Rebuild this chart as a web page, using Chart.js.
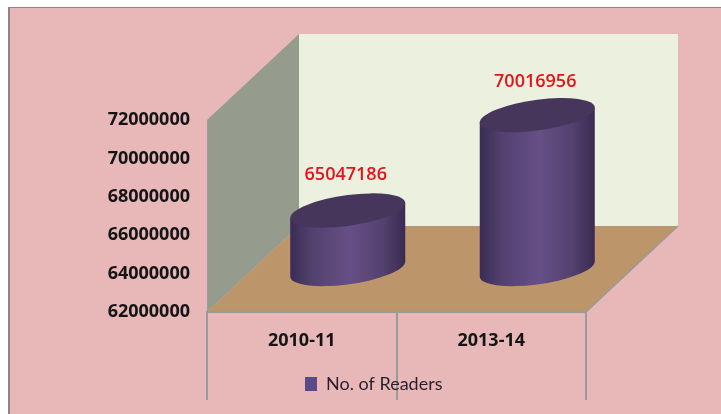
<!DOCTYPE html>
<html>
<head>
<meta charset="utf-8">
<title>No. of Readers</title>
<script src="https://cdn.jsdelivr.net/npm/chart.js@4"></script>
<style>
  html, body { margin: 0; padding: 0; background: #fff; }
  canvas { display: block; }
</style>
</head>
<body>
<canvas id="myChart" width="721" height="414"></canvas>
<script>
var years = ["2010-11", "2013-14"];
var readers = [65047186, 70016956];
var seriesName = "No. of Readers";
var yMin = 62000000;
var yMax = 72000000;
var yStep = 2000000;

var labelFont = "'Open Sans', sans-serif";
var legendFont = "Lato, sans-serif";

// how far the box goes back from the front plane
var depthX = 92;
var depthY = 86;

// gap from the top of each cylinder up to its value label
var labelGaps = [36, 33];

// page frame, walls and floor behind the bars
var room = {
  id: "room",
  beforeDraw: function(chart) {
    var ctx = chart.ctx;
    var a = chart.chartArea;
    ctx.save();
    ctx.fillStyle = "#e8b8b9";
    ctx.fillRect(9, 7, chart.width - 9, chart.height - 7);
    ctx.fillStyle = "#8f8484";
    ctx.fillRect(8, 7, 2, chart.height - 7);
    ctx.fillRect(8, 7, chart.width - 8, 1);

    // back wall
    ctx.fillStyle = "#ebf1de";
    ctx.fillRect(a.left + depthX, a.top - depthY, a.width, a.height);

    // side wall
    ctx.fillStyle = "#959c8e";
    ctx.beginPath();
    ctx.moveTo(a.left, a.top);
    ctx.lineTo(a.left + depthX, a.top - depthY);
    ctx.lineTo(a.left + depthX, a.bottom - depthY);
    ctx.lineTo(a.left, a.bottom);
    ctx.closePath();
    ctx.fill();

    // floor
    ctx.fillStyle = "#bd956b";
    ctx.beginPath();
    ctx.moveTo(a.left, a.bottom);
    ctx.lineTo(a.left + depthX, a.bottom - depthY);
    ctx.lineTo(a.right + depthX, a.bottom - depthY);
    ctx.lineTo(a.right, a.bottom);
    ctx.closePath();
    ctx.fill();

    ctx.strokeStyle = "#9a9a98";
    ctx.lineWidth = 1.5;
    ctx.beginPath();
    ctx.moveTo(a.right, a.bottom);
    ctx.lineTo(a.right + depthX, a.bottom - depthY);
    ctx.stroke();
    ctx.restore();
  },
  afterLayout: function(chart) {
    // legend sits off-centre, under the first divider
    chart.legend.left = 295;
    chart.legend.right = 721;
  }
};

// unit circle squashed and tilted into the cylinder's end cap
function capPath(ctx, cx, cy, rx, start, end) {
  ctx.save();
  ctx.transform(rx, -rx * 0.13, 0, rx * 0.268, cx, cy);
  ctx.arc(0, 0, 1, start, end);
  ctx.restore();
}

// replaces the flat bars with cylinders standing mid-way back on the floor
var cylinders = {
  id: "cylinders",
  beforeDatasetDraw: function(chart, args) {
    var ctx = chart.ctx;
    // the axis starts at yMin, so the floor is the bottom of the chart area
    var floorY = chart.scales.y.getPixelForValue(yMin);
    args.meta.data.forEach(function(bar, i) {
      var rx = bar.width / 2;
      var cx = bar.x + depthX / 2;
      var topY = bar.y - depthY / 2;
      var baseY = floorY - depthY / 2;
      var tilt = rx * 0.13;

      var side = ctx.createLinearGradient(cx - rx, 0, cx + rx, 0);
      side.addColorStop(0, "#3a2c55");
      side.addColorStop(0.2, "#54416f");
      side.addColorStop(0.52, "#664f86");
      side.addColorStop(0.8, "#54416f");
      side.addColorStop(1, "#3a2b52");

      ctx.save();
      ctx.fillStyle = side;
      ctx.beginPath();
      capPath(ctx, cx, baseY, rx, 0, Math.PI);
      ctx.lineTo(cx - rx, topY + tilt);
      ctx.lineTo(cx + rx, topY - tilt);
      ctx.closePath();
      ctx.fill();

      ctx.fillStyle = "#46365c";
      ctx.beginPath();
      capPath(ctx, cx, topY, rx, 0, Math.PI * 2);
      ctx.fill();

      ctx.fillStyle = "#e3141b";
      ctx.font = "600 18px " + labelFont;
      ctx.textAlign = "center";
      ctx.textBaseline = "middle";
      ctx.fillText(String(readers[i]), cx - 2, topY - labelGaps[i]);
      ctx.restore();
    });
    return false;
  }
};

new Chart("myChart", {
  type: "bar",
  data: {
    labels: years,
    datasets: [{
      label: seriesName,
      data: readers,
      backgroundColor: "#5b4a8a",
      barPercentage: 0.607,
      categoryPercentage: 1
    }]
  },
  options: {
    responsive: false,
    animation: false,
    layout: { padding: { top: 120, right: 135, bottom: 11, left: 0 } },
    scales: {
      x: {
        afterFit: function(scale) { scale.height = 53; },
        border: { color: "#9a9a98", width: 2 },
        grid: { drawOnChartArea: false, color: "#9a9a98", lineWidth: 2, tickLength: 88 },
        ticks: {
          color: "#141414",
          padding: -70,
          maxRotation: 0,
          font: { family: labelFont, size: 18, weight: "bold" }
        }
      },
      y: {
        min: yMin,
        max: yMax,
        afterFit: function(scale) { scale.width = 207; },
        border: { color: "#9a9a98", width: 1 },
        grid: { drawOnChartArea: false, drawTicks: false },
        ticks: {
          stepSize: yStep,
          padding: 17,
          color: "#141414",
          callback: function(v) { return String(v); },
          font: { family: labelFont, size: 18, weight: "bold" }
        }
      }
    },
    plugins: {
      tooltip: { enabled: false },
      legend: {
        position: "bottom",
        align: "start",
        labels: {
          boxWidth: 12,
          boxHeight: 14,
          color: "#2b1d2b",
          padding: 10,
          font: { family: legendFont, size: 18 }
        }
      }
    }
  },
  plugins: [room, cylinders]
});
</script>
</body>
</html>
